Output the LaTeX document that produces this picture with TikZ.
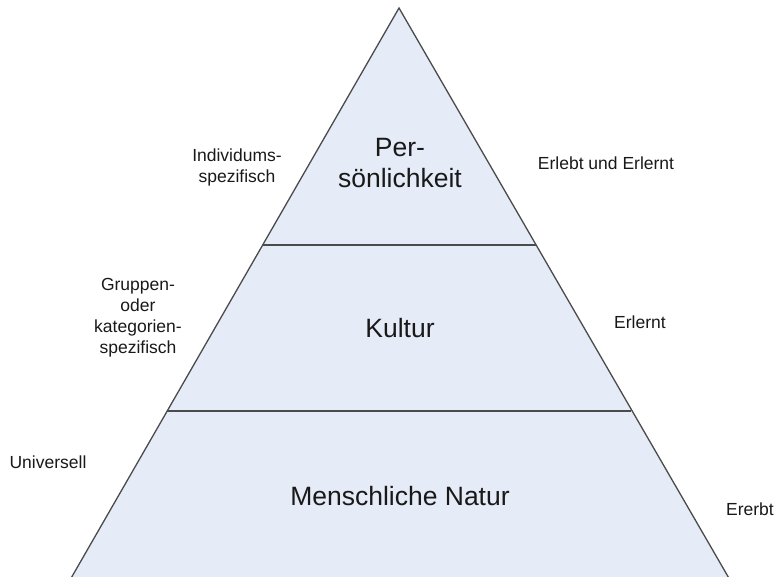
\documentclass[tikz,border=0pt]{standalone}
\usepackage{fontspec}
\setmainfont{Liberation Sans}
\definecolor{layerfill}{RGB}{229,235,247}
\definecolor{edgegray}{RGB}{75,75,75}
\definecolor{textdark}{RGB}{25,25,25}
\tikzset{
	layer/.style={align=center, text=textdark, font=\fontsize{26.5}{30.5}\selectfont},
	side/.style={align=center, text=textdark, font=\fontsize{17.5}{21}\selectfont}
}
\begin{document}
\begin{tikzpicture}[x=1pt, y=-1pt]
	
	\useasboundingbox (0,0) rectangle (778,577);
	
	\coordinate (apex) at (399,8);
	\coordinate (baseL) at (70,580);
	\coordinate (baseR) at (730,580);
	
	\fill[layerfill] (apex) -- (baseL) -- (baseR) -- cycle;
	\draw[edgegray, line width=1.3pt] (baseL) -- (apex) -- (baseR);
	
	\draw[edgegray, line width=1.3pt] (263,245) -- (536,245);
	\draw[edgegray, line width=1.3pt] (167,411) -- (631,411);
	
	% layers
	\node[layer] (pers) at (400,163) {Per-\\sönlichkeit};
	\node[layer] (kultur) at (400,328) {Kultur};
	\node[layer] (natur) at (400,496) {Menschliche Natur};
	
	% left
	\node[side] (indiv) at (237,167) {Individums-\\spezifisch};
	\node[side] (gruppe) at (138,318) {Gruppen-\\oder\\kategorien-\\spezifisch};
	\node[side] (univ) at (48,462) {Universell};
	
	% right
	\node[side] (erlebt) at (606,163) {Erlebt und Erlernt};
	\node[side] (erlernt) at (640,322) {Erlernt};
	\node[side] (ererbt) at (750,509) {Ererbt};
	
\end{tikzpicture}
\end{document}
